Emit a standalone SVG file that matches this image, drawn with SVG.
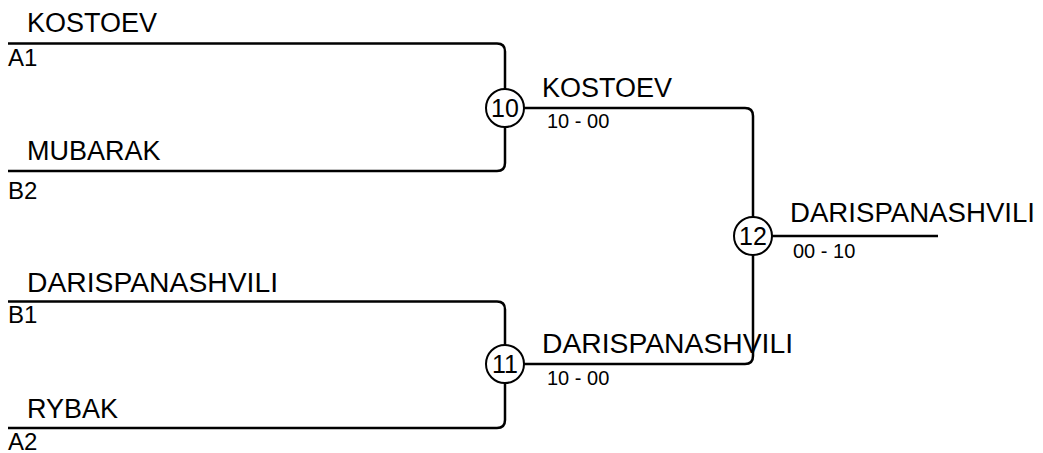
<svg xmlns="http://www.w3.org/2000/svg" width="1043" height="453" viewBox="0 0 1043 453">
<style>
.ln{fill:none;stroke:#000;stroke-width:2.5}
.c{fill:#fff;stroke:#000;stroke-width:2}
.nm{font-family:"Liberation Sans",Arial,sans-serif;font-size:27px;fill:#000}
.sd{font-family:"Liberation Sans",Arial,sans-serif;font-size:24px;fill:#000}
.sc{font-family:"Liberation Sans",Arial,sans-serif;font-size:20px;fill:#000}
.num{font-family:"Liberation Sans",Arial,sans-serif;font-size:25px;fill:#000;text-anchor:middle}
</style>
<rect width="1043" height="453" fill="#fff"/>
<g id="connectors">
<path class="ln" d="M8,43.5 H497 Q505,43.5 505,51.5 V163 Q505,171 497,171 H8"/>
<path class="ln" d="M8,301.5 H497 Q505,301.5 505,309.5 V420 Q505,428 497,428 H8"/>
<path class="ln" d="M505,108 H745 Q753,108 753,116 V356 Q753,364 745,364 H505"/>
<path class="ln" d="M753,236 H938"/>
</g>
<g id="entry-a1">
<text class="nm" x="27" y="32">KOSTOEV</text>
<text class="sd" x="8" y="66">A1</text>
</g>
<g id="entry-b2">
<text class="nm" x="27" y="160">MUBARAK</text>
<text class="sd" x="8" y="199">B2</text>
</g>
<g id="entry-b1">
<text class="nm" x="27" y="292" textLength="251" lengthAdjust="spacingAndGlyphs">DARISPANASHVILI</text>
<text class="sd" x="8" y="323">B1</text>
</g>
<g id="entry-a2">
<text class="nm" x="27" y="418">RYBAK</text>
<text class="sd" x="8" y="450">A2</text>
</g>
<g id="match-10">
<circle class="c" cx="505" cy="108" r="19"/>
<text class="num" x="505" y="116.5">10</text>
<text class="nm" x="542" y="97">KOSTOEV</text>
<text class="sc" x="547" y="128">10 - 00</text>
</g>
<g id="match-11">
<circle class="c" cx="505" cy="364" r="19"/>
<text class="num" x="505" y="372.5">11</text>
<text class="nm" x="542" y="353" textLength="251" lengthAdjust="spacingAndGlyphs">DARISPANASHVILI</text>
<text class="sc" x="547" y="385">10 - 00</text>
</g>
<g id="match-12">
<circle class="c" cx="753" cy="236" r="19"/>
<text class="num" x="753" y="244.5">12</text>
<text class="nm" x="790" y="222" textLength="245" lengthAdjust="spacingAndGlyphs">DARISPANASHVILI</text>
<text class="sc" x="793" y="258">00 - 10</text>
</g>
</svg>
